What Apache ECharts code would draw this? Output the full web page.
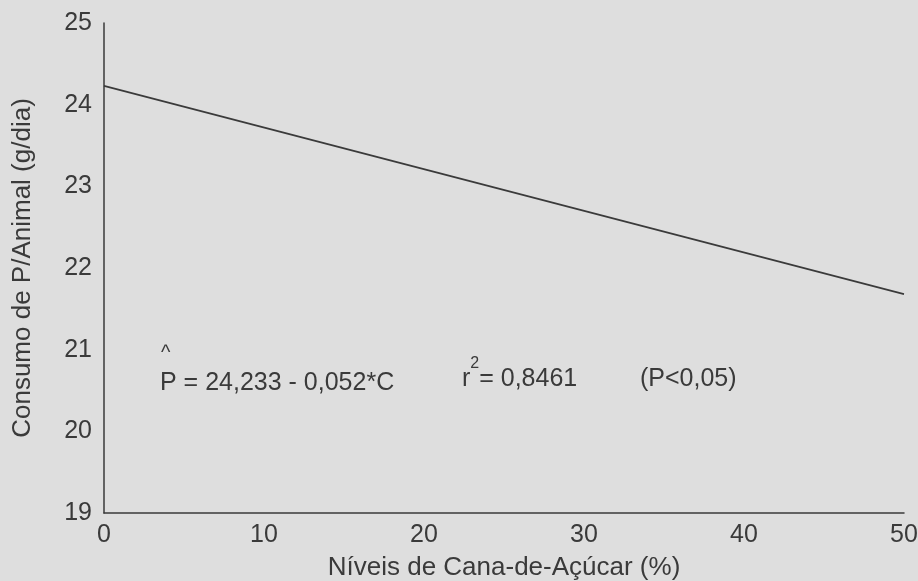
<!DOCTYPE html>
<html>
<head>
<meta charset="utf-8">
<script src="https://cdn.jsdelivr.net/npm/echarts@6/dist/echarts.min.js"></script>
<style>
html,body{margin:0;padding:0;background:#dedede;}
#c{width:918px;height:581px;}
</style>
</head>
<body>
<div id="c"></div>
<script>
const xValues = [0, 50];
const yValues = [24.23, 21.68];
const xTicks = [0, 10, 20, 30, 40, 50];
const yTicks = [19, 20, 21, 22, 23, 24, 25];

const chart = echarts.init(document.getElementById('c'));
const font = '"Liberation Sans", Arial, sans-serif';
const ink = '#3a3a3a';
chart.setOption({
  backgroundColor: '#dedede',
  animation: false,
  grid: {left: 104, right: 14, top: 23, bottom: 68, outerBoundsMode: 'none', containLabel: false},
  xAxis: {
    type: 'value', min: 0, max: 50, interval: 10,
    name: 'Níveis de Cana-de-Açúcar (%)', nameLocation: 'middle', nameGap: 42,
    nameTextStyle: {fontFamily: font, fontSize: 26, color: ink},
    axisLine: {show: true, lineStyle: {color: ink, width: 1.5}},
    axisTick: {show: false},
    splitLine: {show: false},
    axisLabel: {fontFamily: font, fontSize: 25, color: ink, margin: 10,
      formatter: v => xTicks.includes(v) ? String(v) : ''}
  },
  yAxis: {
    type: 'value', min: 19, max: 25, interval: 1,
    name: 'Consumo de P/Animal (g/dia)', nameLocation: 'middle', nameGap: 68,
    nameTextStyle: {fontFamily: font, fontSize: 26, color: ink},
    axisLine: {show: true, lineStyle: {color: ink, width: 1.5}},
    axisTick: {show: false},
    splitLine: {show: false},
    axisLabel: {fontFamily: font, fontSize: 25, color: ink, margin: 12,
      formatter: v => yTicks.includes(v) ? String(v) : ''}
  },
  series: [{
    type: 'line',
    data: xValues.map((x, i) => [x, yValues[i]]),
    symbol: 'none',
    lineStyle: {color: '#3a3a3a', width: 1.6}
  }],
  graphic: [
    {type: 'text', left: 161, top: 343, style: {text: '^', font: '20px ' + font, fill: ink}},
    {type: 'text', left: 160, top: 371, style: {text: 'P = 24,233 - 0,052*C', font: '25px ' + font, fill: ink}},
    {type: 'text', left: 462, top: 356, style: {
      text: '{a|r}{s|2}{a|= 0,8461}',
      rich: {
        a: {fontFamily: font, fontSize: 25, fill: ink, color: ink, verticalAlign: 'bottom', lineHeight: 36},
        s: {fontFamily: font, fontSize: 16, fill: ink, color: ink, verticalAlign: 'top', lineHeight: 36}
      }}},
    {type: 'text', left: 640, top: 367, style: {text: '(P<0,05)', font: '25px ' + font, fill: ink}}
  ]
});
</script>
</body>
</html>
